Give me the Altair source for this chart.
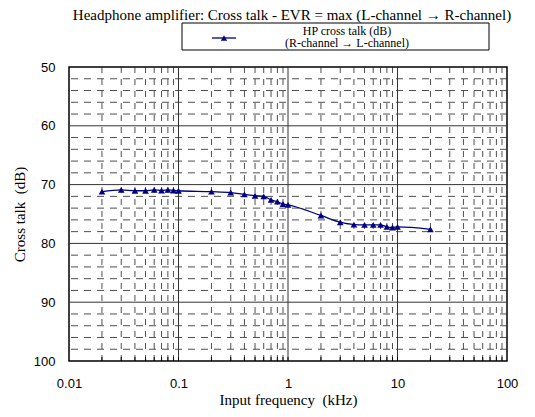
import altair as alt
import pandas as pd

# ---- data ----
freq_khz = [0.02, 0.03, 0.04, 0.05, 0.06, 0.07, 0.08, 0.09, 0.1,
            0.2, 0.3, 0.4, 0.5, 0.6, 0.7, 0.8, 0.9, 1,
            2, 3, 4, 5, 6, 7, 8, 9, 10, 20]
crosstalk_db = [71.2, 70.9, 71.05, 71.05, 70.9, 71.0, 70.9, 71.0, 71.05,
                71.2, 71.35, 71.65, 71.9, 72.0, 72.6, 72.9, 73.3, 73.45,
                75.25, 76.4, 76.8, 76.85, 76.85, 76.85, 77.2, 77.3, 77.2, 77.6]
series_name = "HP cross talk (dB)\n(R-channel \u2192 L-channel)"
title_text = "Headphone amplifier: Cross talk - EVR = max (L-channel \u2192 R-channel)"

x_major = [0.1, 1, 10]
x_labels = [0.01, 0.1, 1, 10, 100]
x_minor = [m * d for d in [0.01, 0.1, 1, 10] for m in range(2, 10)]
y_major = [60, 70, 80, 90]
y_labels = [50, 60, 70, 80, 90, 100]
y_minor = [52, 54, 56, 58, 62, 64, 66, 68, 72, 74, 76, 78, 82, 84, 86, 88, 92, 94, 96, 98]

W, H = 438, 294
NAVY = "#000080"
SERIF = "Liberation Serif"
SANS = "Liberation Sans"

xs = alt.Scale(type="log", domain=[0.01, 100])
ys = alt.Scale(domain=[50, 100], reverse=True)

x_axis = alt.Axis(values=x_labels, format="~g", grid=False, ticks=False,
                  domain=False, labelFont=SANS, labelFontSize=13,
                  labelColor="black", labelPadding=16, labelFlush=False,
                  title="Input frequency\u00a0 (kHz)", titleFont=SERIF,
                  titleFontSize=15, titleFontWeight="normal",
                  titleColor="black", titlePadding=2)
y_axis = alt.Axis(values=y_labels, grid=False, ticks=False, domain=False,
                  labelFont=SANS, labelFontSize=13, labelColor="black",
                  labelPadding=14, labelFlush=False,
                  title="Cross talk\u00a0 (dB)", titleFont=SERIF,
                  titleFontSize=15, titleFontWeight="normal",
                  titleColor="black", titlePadding=6)
X = alt.X("f:Q", scale=xs, axis=x_axis)
Y = alt.Y("db:Q", scale=ys, axis=y_axis)

df = pd.DataFrame({"f": freq_khz, "db": crosstalk_db})

line = alt.Chart(df).mark_line(
    color=NAVY, strokeWidth=1.3, interpolate="monotone"
).encode(x=X, y=Y)

vmin = alt.Chart(pd.DataFrame({"f": x_minor})).mark_rule(
    color="#222", strokeWidth=0.8, strokeDash=[6, 6]
).encode(x=X)
vmaj = alt.Chart(pd.DataFrame({"f": x_major})).mark_rule(
    color="#333", strokeWidth=1
).encode(x=X)
hmin = alt.Chart(pd.DataFrame({"db": y_minor})).mark_rule(
    color="#222", strokeWidth=0.8, strokeDash=[7, 6]
).encode(y=Y)
hmaj = alt.Chart(pd.DataFrame({"db": y_major})).mark_rule(
    color="#333", strokeWidth=1
).encode(y=Y)

# inward minor ticks on bottom axis
xticks = alt.Chart(pd.DataFrame({"f": x_minor + x_major})).mark_rule(
    color="black", strokeWidth=1
).encode(x=X, y=alt.value(H - 4), y2=alt.value(H))

pts = alt.Chart(df).mark_point(
    shape="triangle-up", filled=True, color=NAVY, size=45, opacity=1
).encode(x=X, y=Y)

# manual legend box above the plot
leg = pd.DataFrame({"label": [series_name]})
leg_box = alt.Chart(leg).mark_rect(
    fill="white", stroke="black", strokeWidth=1
).encode(x=alt.value(113), x2=alt.value(420), y=alt.value(-44), y2=alt.value(-17))
leg_line = alt.Chart(leg).mark_rule(color=NAVY, strokeWidth=1.3).encode(
    x=alt.value(143), x2=alt.value(167), y=alt.value(-29))
leg_pt = alt.Chart(leg).mark_point(
    shape="triangle-up", filled=True, color=NAVY, size=40, opacity=1
).encode(x=alt.value(155), y=alt.value(-29))
leg_txt = alt.Chart(leg).mark_text(
    font=SERIF, fontSize=12, lineBreak="\n", lineHeight=12.5,
    align="center", baseline="middle", color="black"
).encode(text="label:N", x=alt.value(278), y=alt.value(-36.5))

chart = alt.layer(
    line, vmin, hmin, vmaj, hmaj, xticks, pts, leg_box, leg_line, leg_pt, leg_txt
).properties(
    width=W, height=H,
    autosize=alt.AutoSizeParams(type="none"),
    padding={"left": 61, "top": 59, "right": 20, "bottom": 48},
    title=alt.TitleParams(text=title_text, anchor="middle", frame="group",
                          font=SERIF, fontSize=15, fontWeight="normal",
                          color="black", offset=4, dx=4, dy=4),
).configure_view(stroke="black", strokeWidth=1.5)

chart.save("out.html", embed_options={"renderer": "svg", "actions": False})
